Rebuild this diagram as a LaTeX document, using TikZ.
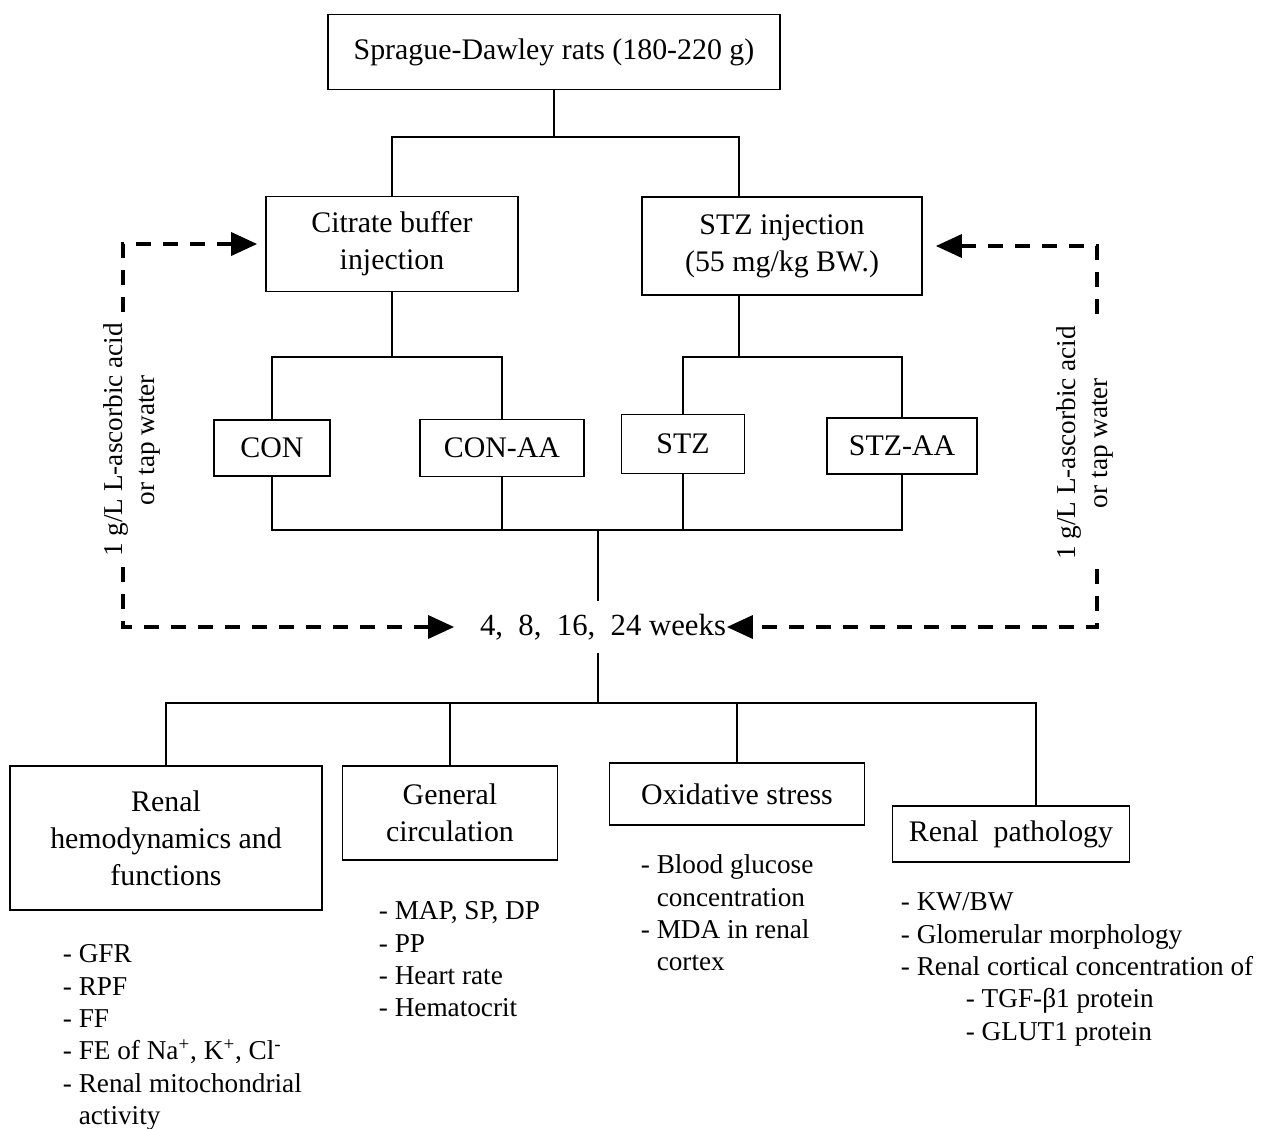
\documentclass[tikz,border=0pt]{standalone}
\usepackage{fontspec}
\setmainfont{Liberation Serif}
\usetikzlibrary{arrows.meta, positioning}

\begin{document}
\begin{tikzpicture}[
    x=0.02cm, y=-0.02cm,
    line width=1pt,
    box/.style={draw, rectangle, align=center, inner sep=0pt, font=\fontsize{17}{21}\selectfont},
    listtext/.style={anchor=north west, align=left, inner sep=0pt, font=\fontsize{15.5}{18.4}\selectfont},
    druglabel/.style={rotate=90, fill=white, align=center, inner sep=1pt, font=\fontsize{15.5}{18.4}\selectfont},
    dasharrow/.style={line width=2pt, dash pattern=on 0.3cm off 0.24cm, {Triangle[length=0.52cm,width=0.46cm]}-{Triangle[length=0.52cm,width=0.46cm]}}
]
\useasboundingbox (0,0) rectangle (1269,1129);

% Animals and injections
\node[box, minimum width=9.04cm, minimum height=1.5cm] (rats) at (554,52) {Sprague-Dawley rats (180-220 g)};
\node[box, minimum width=5.04cm, minimum height=1.9cm] (cit) at (392,244) {Citrate buffer\\ injection};
\node[box, minimum width=5.6cm, minimum height=1.96cm] (stzinj) at (782,246) {STZ injection\\ (55 mg/kg BW.)};

% Groups
\node[box, minimum width=2.32cm, minimum height=1.12cm] (con) at (272,448) {CON};
\node[box, minimum width=3.28cm, minimum height=1.14cm] (conaa) at (502,448) {CON-AA};
\node[box, minimum width=2.46cm, minimum height=1.18cm] (stz) at (683,444) {STZ};
\node[box, minimum width=3.0cm, minimum height=1.12cm] (stzaa) at (902,446) {STZ-AA};

% Time points
\node[inner xsep=0pt, inner ysep=0pt, minimum height=1cm, font=\fontsize{17.5}{21}\selectfont] (weeks) at (603,627) {4,\enspace 8,\enspace 16,\enspace 24 weeks};

% Measurements
\node[box, minimum width=6.24cm, minimum height=2.88cm] (hemo) at (166,838) {Renal\\ hemodynamics and\\ functions};
\node[box, minimum width=4.3cm, minimum height=1.88cm] (circ) at (450,813) {General\\ circulation};
\node[box, minimum width=5.1cm, minimum height=1.24cm] (oxi) at (737,794) {Oxidative stress};
\node[box, minimum width=4.74cm, minimum height=1.12cm] (pathol) at (1011,834) {Renal~~pathology};

\node[listtext] (hemolist) at (62,944) {- GFR\\ - RPF\\ - FF\\ - FE of Na\textsuperscript{+}, K\textsuperscript{+}, Cl\textsuperscript{-}\\ - Renal mitochondrial\\ \phantom{- }activity};
\node[listtext] (circlist) at (378,901) {- MAP, SP, DP\\ - PP\\ - Heart rate\\ - Hematocrit};
\node[listtext] (oxilist) at (640,854) {- Blood glucose\\ \phantom{- }concentration\\ - MDA in renal\\ \phantom{- }cortex};
\node[listtext] (pathlist) at (900,892) {- KW/BW\\ - Glomerular morphology\\ - Renal cortical concentration of\\ \hspace*{1.3cm}- TGF-β1 protein\\ \hspace*{1.3cm}- GLUT1 protein};

% Tree lines
\coordinate (split1) at (554,137);
\coordinate (split2) at (392,357);
\coordinate (split3) at (739,357);
\coordinate (join) at (598,530);
\coordinate (split4) at (598,703);
\coordinate (pdrop) at (1036,703);

\draw (rats.south) -- (split1);
\draw (cit.north) |- (split1) -| (split3 |- stzinj.north);
\draw (cit.south) -- (split2);
\draw (con.north) |- (split2) -| (conaa.north);
\draw (split3 |- stzinj.south) -- (split3);
\draw (stz.north) |- (split3) -| (stzaa.north);
\draw (con.south) |- (join) -| (stzaa.south);
\draw (conaa.south) -- (conaa.south |- join);
\draw (stz.south) -- (stz.south |- join);
\draw (join) -- (join |- weeks.north);
\draw (split4 |- weeks.south) -- (split4);
\draw (hemo.north) |- (pdrop) -- (pdrop |- pathol.north);
\draw (circ.north) -- (circ.north |- split4);
\draw (oxi.north) -- (oxi.north |- split4);

% Drinking water
\coordinate (lbend) at (123,627);
\coordinate (rbend) at (1097,627);
\draw[dasharrow, shorten <=0.16cm, shorten >=0.5cm] (cit.west) -| (lbend) |- (weeks.west);
\draw[dasharrow, shorten <=0.26cm] (stzinj.east) -| (rbend) |- (weeks.east);
\node[druglabel] (acidL) at (132,440) {1 g/L L-ascorbic acid\\ or tap water};
\node[druglabel] (acidR) at (1085,443) {1 g/L L-ascorbic acid\\ or tap water};

\end{tikzpicture}
\end{document}
